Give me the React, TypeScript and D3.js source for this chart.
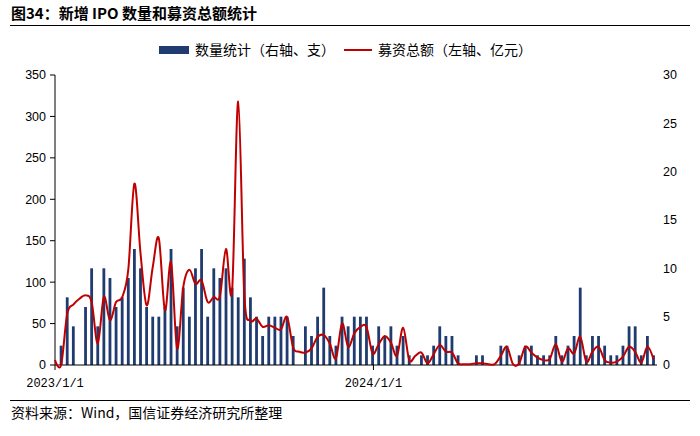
import React from "react";
import * as d3 from "d3";

// weekly data starting 2023/1/1
const ipoCounts: number[] = [
  0, 2, 7, 4, 0, 6, 10, 4, 10, 9, 6, 7, 9, 12, 10, 6, 5, 5, 6, 12,
  4, 8, 5, 10, 12, 5, 10, 9, 10, 8, 7, 11, 7, 5, 3, 5, 5, 5, 5, 3,
  0, 4, 3, 5, 8, 3, 2, 5, 4, 5, 5, 5, 2, 4, 3, 4, 2, 3, 1, 0,
  1, 1, 2, 4, 3, 3, 1, 0, 0, 1, 1, 0, 0, 2, 2, 0, 1, 2, 2, 1,
  1, 1, 3, 1, 2, 3, 8, 1, 3, 3, 2, 1, 1, 2, 4, 4, 1, 3, 1,
];
const fundsRaised: number[] = [
  6, 0, 62, 73, 80, 84, 76, 26, 82, 54, 76, 82, 115, 219, 135, 72, 118, 153, 66, 124,
  20, 94, 115, 98, 102, 76, 82, 83, 140, 90, 318, 85, 54, 56, 46, 48, 45, 43, 58, 21,
  16, 15, 20, 34, 36, 26, 8, 50, 22, 38, 46, 46, 14, 25, 35, 27, 11, 45, 6, 11,
  15, 2, 13, 24, 16, 15, 2, 1, 1, 2, 2, 1, 1, 11, 22, 1, 2, 22, 15, 9,
  6, 7, 25, 4, 20, 14, 34, 4, 16, 22, 6, 3, 4, 10, 22, 16, 3, 22, 7,
];
const leftTicks: number[] = [0, 50, 100, 150, 200, 250, 300, 350];
const rightTicks: number[] = [0, 5, 10, 15, 20, 25, 30];
const xTickLabels: string[] = ["2023/1/1", "2024/1/1"];

const title = "图34：新增 IPO 数量和募资总额统计";
const legendBar = "数量统计（右轴、支）";
const legendLine = "募资总额（左轴、亿元）";
const source = "资料来源：Wind，国信证券经济研究所整理";

const BAR = "#1F3B70";
const RED = "#C00000";
const CJK = "'Noto Sans CJK SC', 'Noto Sans', sans-serif";
const NUM = "'Liberation Sans', Arial, sans-serif";

export default function App() {
  const W = 700, H = 436;
  const left = 55, right = 657, top = 75, bottom = 365;
  const start = new Date(2023, 0, 1);
  const dates = ipoCounts.map((_, i) => d3.timeDay.offset(start, 7 * i));
  const x = d3
    .scaleTime()
    .domain([start, d3.timeDay.offset(start, Math.round(7 * 98.5))])
    .range([left, right]);
  const yL = d3.scaleLinear().domain([0, 350]).range([bottom, top]);
  const yR = d3.scaleLinear().domain([0, 30]).range([bottom, top]);
  const line = d3
    .line<number>()
    .x((_, i) => x(dates[i]))
    .y((d) => yL(d))
    .curve(d3.curveCardinal.tension(0));
  const tickDates = xTickLabels.map((s) => {
    const [yy, mm, dd] = s.split("/").map(Number);
    return new Date(yy, mm - 1, dd);
  });
  const bw = 2.8;

  return (
    <svg width={W} height={H} style={{ position: "absolute", left: 0, top: 0, background: "#fff" }}>
      <rect x={0} y={0} width={W} height={H} fill="#fff" />
      <text x={11} y={19} fontFamily={CJK} fontSize={15} fontWeight="bold" fill="#000">{title}</text>
      <line x1={10} x2={690} y1={25.5} y2={25.5} stroke="#000" strokeWidth={1.2} />

      {/* legend */}
      <rect x={159} y={46} width={30} height={8} fill={BAR} />
      <text x={195} y={55} fontFamily={CJK} fontSize={14} fill="#000">{legendBar}</text>
      <line x1={344} x2={372} y1={50} y2={50} stroke={RED} strokeWidth={2} />
      <text x={378} y={55} fontFamily={CJK} fontSize={14} fill="#000">{legendLine}</text>

      {/* left axis */}
      <line x1={left} x2={left} y1={top} y2={bottom} stroke="#000" strokeWidth={1} />
      {leftTicks.map((t) => (
        <g key={"l" + t}>
          <line x1={left - 5} x2={left} y1={yL(t)} y2={yL(t)} stroke="#000" />
          <text x={left - 9} y={yL(t)} dy="0.35em" textAnchor="end" fontFamily={NUM} fontSize={12.5} fill="#000">{t}</text>
        </g>
      ))}
      {/* right axis labels */}
      {rightTicks.map((t) => (
        <text key={"r" + t} x={663} y={yR(t)} dy="0.35em" textAnchor="start" fontFamily={NUM} fontSize={12.5} fill="#000">{t}</text>
      ))}

      {/* bars */}
      {ipoCounts.map((v, i) =>
        v > 0 ? (
          <rect key={"b" + i} x={x(dates[i]) - bw / 2} y={yR(v)} width={bw} height={yR(0) - yR(v)} fill={BAR} />
        ) : null
      )}

      {/* x axis */}
      <line x1={left} x2={right} y1={bottom} y2={bottom} stroke="#000" strokeWidth={1.2} />
      {tickDates.map((d, i) => (
        <g key={"x" + i}>
          <line x1={x(d)} x2={x(d)} y1={bottom} y2={bottom + 5} stroke="#000" />
          <text x={x(d)} y={387} textAnchor="middle" fontFamily="'Liberation Mono', 'DejaVu Sans Mono', monospace" fontSize={12} fill="#000">{xTickLabels[i]}</text>
        </g>
      ))}

      {/* line */}
      <path d={line(fundsRaised) || ""} fill="none" stroke={RED} strokeWidth={2} />

      <line x1={10} x2={690} y1={400.5} y2={400.5} stroke="#000" strokeWidth={1.2} />
      <text x={11} y={418} fontFamily={CJK} fontSize={14} fill="#000">{source}</text>
    </svg>
  );
}
